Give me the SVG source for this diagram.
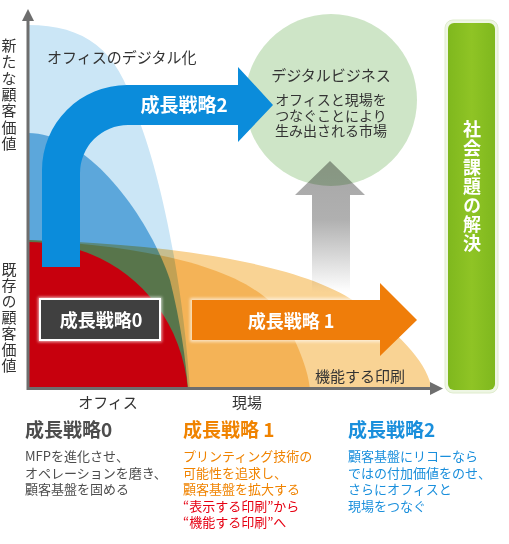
<svg xmlns="http://www.w3.org/2000/svg" width="509" height="544" viewBox="0 0 509 544">
<style>
text{font-family:"Noto Sans CJK JP","Noto Sans",sans-serif;}
.lbl{font-size:15px;fill:#333;}
.b{font-weight:bold;}
.w{fill:#fff;}
.h{font-size:19px;font-weight:bold;}
.s{font-size:13px;}
.gray{fill:#4d4d4d;}
.or{fill:#f08300;}
.red{fill:#e60012;}
.bl{fill:#1a8fdc;}
.axis{stroke:#6e6e6e;stroke-width:3;fill:none;}
.vert{writing-mode:vertical-rl;}
</style>
<defs>
<linearGradient id="gfade" x1="0" y1="160" x2="0" y2="292" gradientUnits="userSpaceOnUse">
<stop offset="0" stop-color="#a6a6a6"/>
<stop offset="0.45" stop-color="#b0b0b0"/>
<stop offset="1" stop-color="#ffffff"/>
</linearGradient>
<linearGradient id="ggreen" x1="0" y1="0" x2="1" y2="0">
<stop offset="0" stop-color="#7fb81e"/>
<stop offset="0.5" stop-color="#8fc425"/>
<stop offset="1" stop-color="#7fb81e"/>
</linearGradient>
<filter id="glow" x="-20%" y="-20%" width="140%" height="140%">
<feGaussianBlur stdDeviation="1.5"/>
</filter>
</defs>

<!-- background layers -->
<g id="layers">
<path id="lightblue" d="M28,25 C85,25 118,50 135,110 C160,170 183,280 190,390 L28,390 Z" fill="#cbe6f6"/>
<path id="midblue" d="M28,133 C90,133 150,220 170,280 C180,320 186,360 188,390 L28,390 Z" fill="#5ca7db"/>
<g id="orange" style="mix-blend-mode:multiply">
<path d="M28,240 C150,243 300,260 360,305 C405,338 428,365 432,390 L28,390 Z" fill="#f9d394"/>
<path d="M28,240 C120,245 250,260 285,320 C300,350 308,370 310,390 L28,390 Z" fill="#f4b357"/>
</g>
<path id="red" d="M28,242 C110,242 180,300 188,390 L28,390 Z" fill="#c7000d"/>
</g>

<!-- axes -->
<g id="axes">
<line class="axis" x1="28" y1="390" x2="28" y2="18"/>
<polygon points="22,21 28,9 34,21" fill="#6e6e6e"/>
<line class="axis" x1="27" y1="388.5" x2="432" y2="388.5"/>
<polygon points="430,382 443,388.5 430,395" fill="#6e6e6e"/>
</g>

<g id="node-digital-business">
<circle cx="331" cy="100" r="86" fill="#cee5c7"/>
<text class="lbl" x="331" y="81" text-anchor="middle">デジタルビジネス</text>
<text x="331" y="105" text-anchor="middle" font-size="14" fill="#333">オフィスと現場を</text>
<text x="331" y="120.5" text-anchor="middle" font-size="14" fill="#333">つなぐことにより</text>
<text x="331" y="136" text-anchor="middle" font-size="14" fill="#333">生み出される市場</text>
</g>

<g id="connectors">
<path id="gray-arrow" d="M312,292 V195 H295 L330,161 L365,195 H350 V292 Z" fill="url(#gfade)" style="mix-blend-mode:multiply"/>
<path id="arrow2" d="M42,267 V170 A85,85 0 0 1 127,85 H238 V67 L273,105 L238,142 V125 H128 A48,48 0 0 0 80,173 V267 Z" fill="#0b8cdb"/>
<g id="arrow1">
<rect x="190" y="298" width="194" height="44" fill="#fff" opacity="0.6" filter="url(#glow)"/>
<path d="M192,300 H380 V283 L417,320 L380,356 V340 H192 Z" fill="#ef7d0a"/>
</g>
</g>

<g id="node-strategy2-label">
<text class="h w" x="184" y="112" text-anchor="middle">成長戦略2</text>
</g>
<g id="node-strategy1-label">
<text class="w b" x="291" y="328" font-size="18" text-anchor="middle">成長戦略 1</text>
</g>
<g id="node-strategy0">
<rect x="38" y="297" width="124" height="45" fill="#fff" opacity="0.7" filter="url(#glow)"/>
<rect x="40" y="299" width="120" height="41" fill="#404040" stroke="#fff" stroke-width="2"/>
<text class="w b" x="101" y="327" font-size="18" text-anchor="middle">成長戦略0</text>
</g>

<g id="node-social">
<rect x="445" y="20" width="53" height="373" rx="8" fill="#eef6e4" stroke="#dfeccd" stroke-width="1"/>
<rect x="448" y="23" width="47" height="367" rx="6" fill="url(#ggreen)"/>
<text class="w b vert" x="472" y="120" font-size="18" letter-spacing="1">社会課題の解決</text>
</g>

<g id="labels">
<text class="lbl" x="47" y="63">オフィスのデジタル化</text>
<text class="lbl" x="315" y="382">機能する印刷</text>
<text class="lbl" x="108" y="408" text-anchor="middle">オフィス</text>
<text class="lbl" x="247" y="408" text-anchor="middle">現場</text>
<text class="lbl vert" x="9" y="38" letter-spacing="1.3">新たな顧客価値</text>
<text class="lbl vert" x="9" y="262" letter-spacing="1">既存の顧客価値</text>
</g>

<g id="legend-0">
<text class="h gray" x="25" y="437">成長戦略0</text>
<text class="s gray" x="25" y="461">MFPを進化させ、</text>
<text class="s gray" x="25" y="477.5">オペレーションを磨き、</text>
<text class="s gray" x="25" y="494">顧客基盤を固める</text>
</g>
<g id="legend-1">
<text class="h or" x="183" y="437">成長戦略 1</text>
<text class="s or" x="183" y="461">プリンティング技術の</text>
<text class="s or" x="183" y="477.5">可能性を追求し、</text>
<text class="s or" x="183" y="494">顧客基盤を拡大する</text>
<text class="s red" x="183" y="510.5">“表示する印刷”から</text>
<text class="s red" x="183" y="527">“機能する印刷”へ</text>
</g>
<g id="legend-2">
<text class="h bl" x="348" y="437">成長戦略2</text>
<text class="s bl" x="348" y="461">顧客基盤にリコーなら</text>
<text class="s bl" x="348" y="477.5">ではの付加価値をのせ、</text>
<text class="s bl" x="348" y="494">さらにオフィスと</text>
<text class="s bl" x="348" y="510.5">現場をつなぐ</text>
</g>
</svg>
